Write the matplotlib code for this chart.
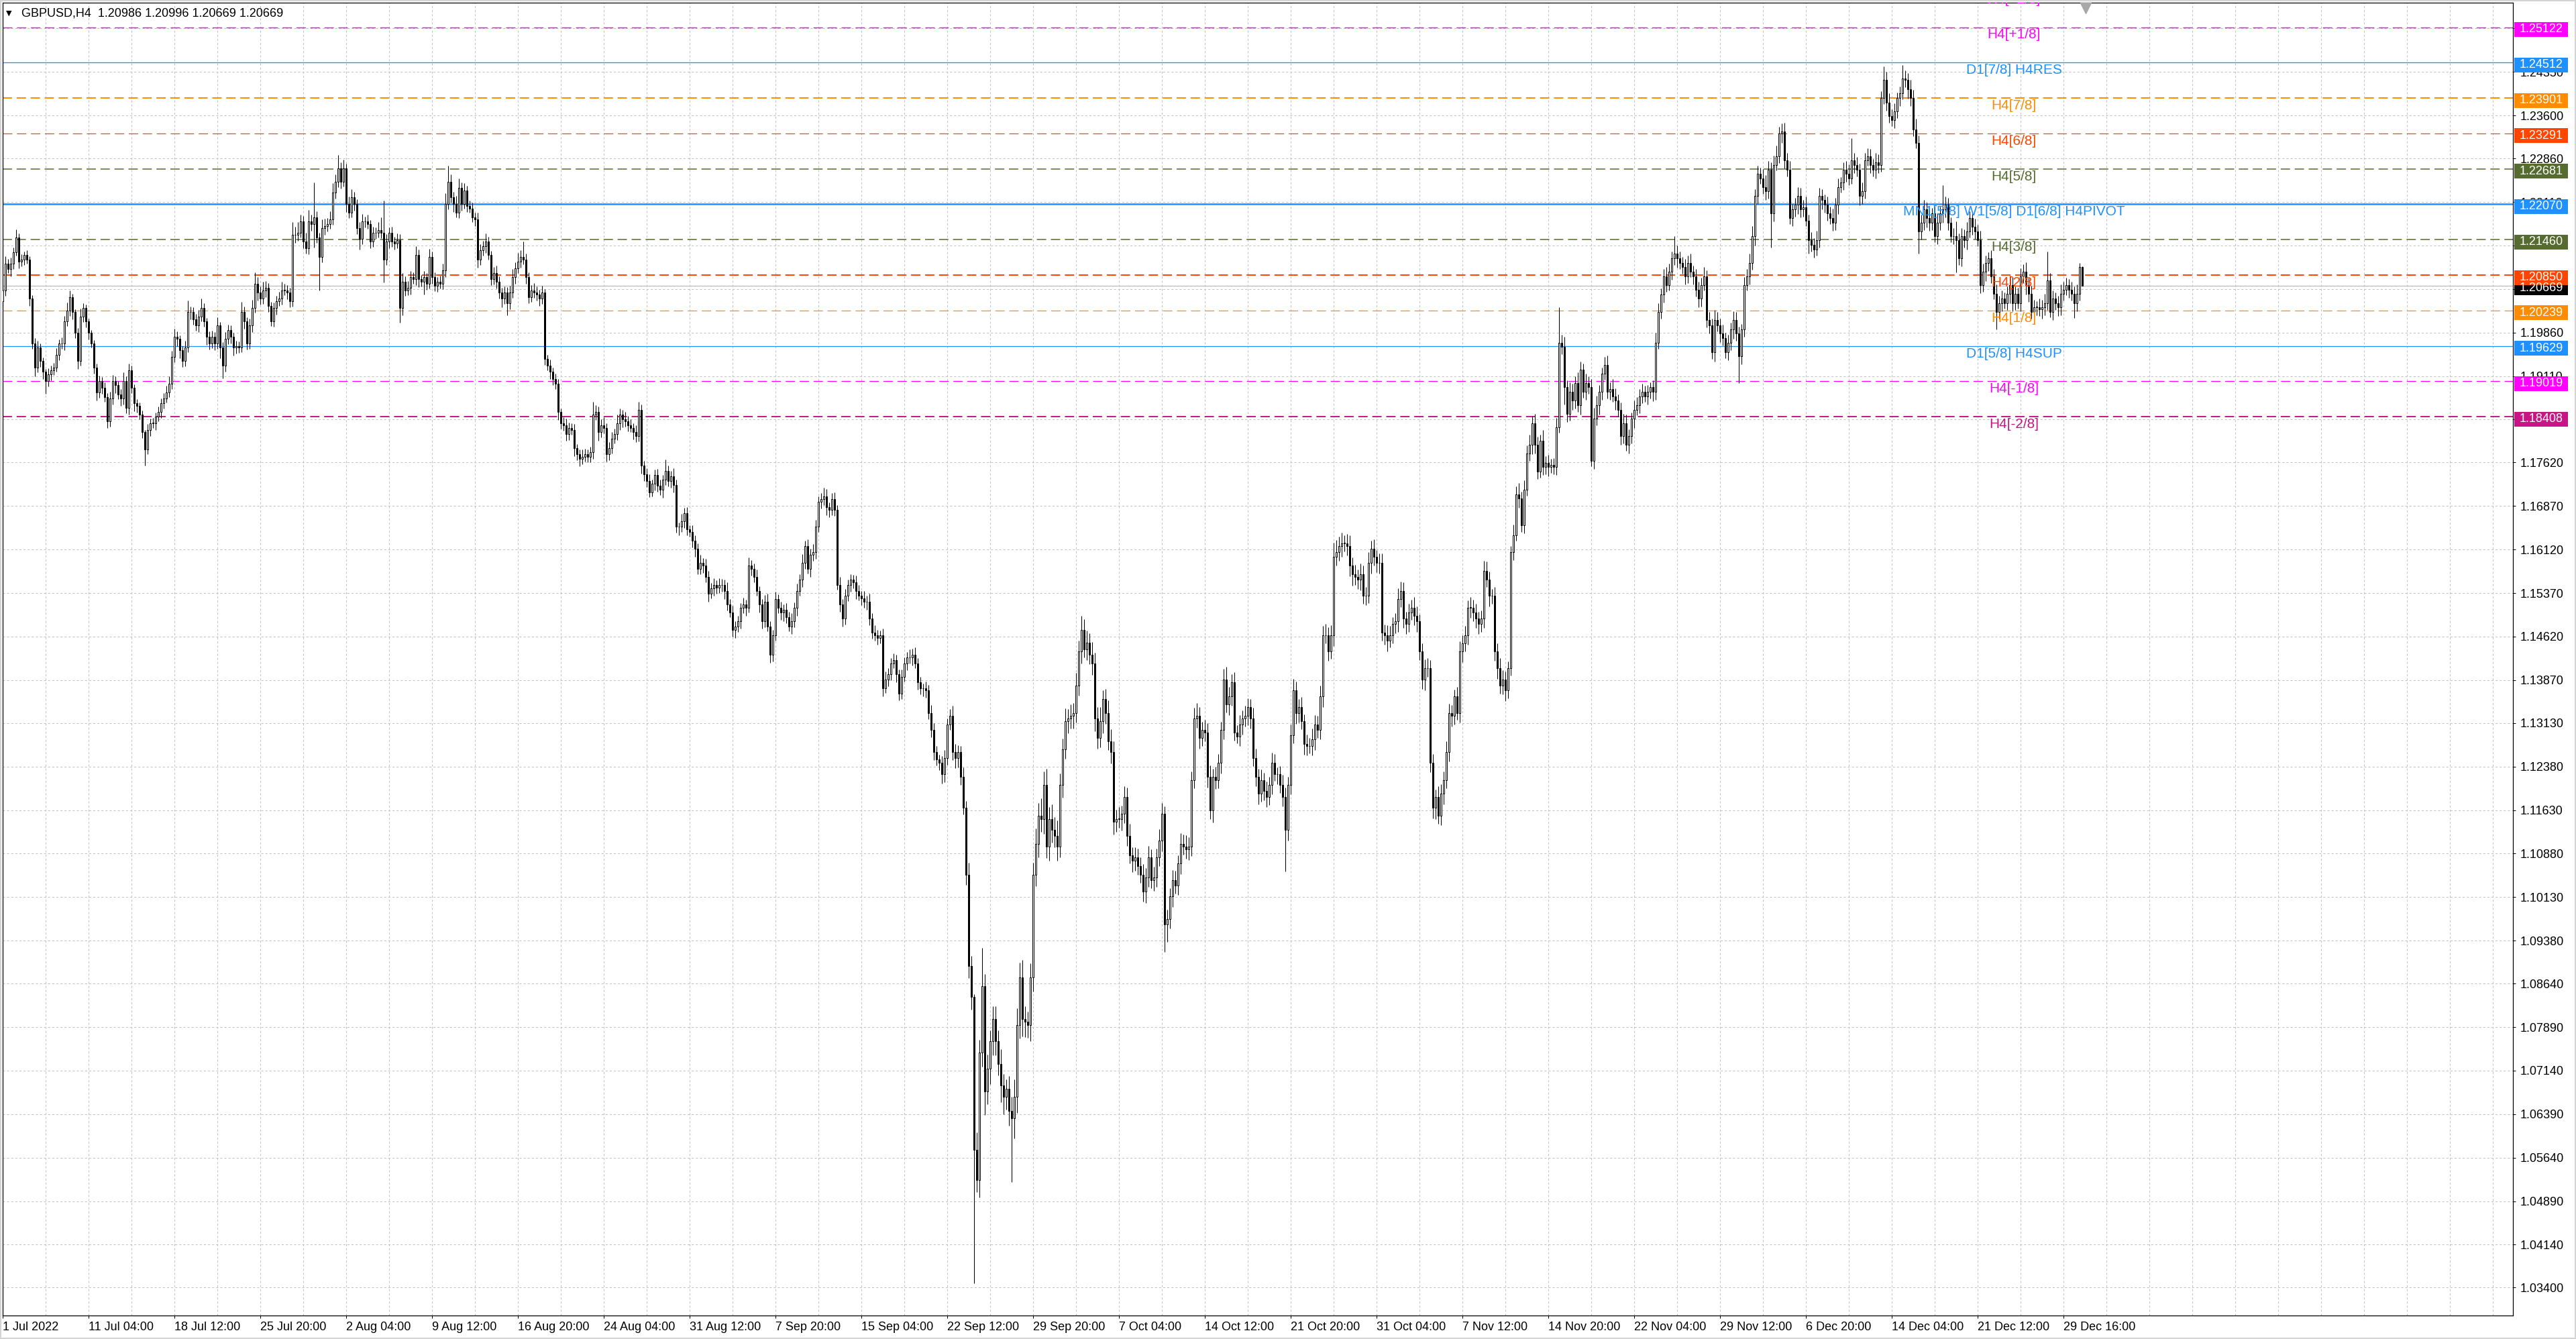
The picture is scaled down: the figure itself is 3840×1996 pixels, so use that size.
import matplotlib
matplotlib.use("Agg")
import matplotlib.pyplot as plt
import matplotlib.transforms as mtrans
from matplotlib.patches import Rectangle
import numpy as np

plt.rcParams['font.family'] = ['Liberation Sans', 'DejaVu Sans']
plt.rcParams['lines.scale_dashes'] = False

# %% data: H4 closes (1 Jul - 30 Dec 2022)
first_open = 1.2040

close_jul_aug = [
    1.2059, 1.2105, 1.2095, 1.2105, 1.2124, 1.2150, 1.2108, 1.2112, 1.2120, 1.2112,
    1.2044, 1.1967, 1.1925, 1.1960, 1.1937, 1.1918, 1.1902, 1.1914, 1.1921, 1.1925,
    1.1948, 1.1967, 1.1967, 1.2005, 1.2024, 1.2047, 1.2021, 1.1986, 1.1937, 1.2013,
    1.2028, 1.2005, 1.1986, 1.1967, 1.1925, 1.1883, 1.1902, 1.1891, 1.1875, 1.1833,
    1.1872, 1.1902, 1.1895, 1.1879, 1.1872, 1.1902, 1.1856, 1.1921, 1.1891, 1.1864,
    1.1860, 1.1845, 1.1814, 1.1784, 1.1818, 1.1830, 1.1830, 1.1841, 1.1849, 1.1864,
    1.1872, 1.1883, 1.1898, 1.1944, 1.1979, 1.1975, 1.1956, 1.1937, 1.1960, 1.2021,
    1.2021, 1.2009, 1.1998, 1.2013, 1.2028, 1.2005, 1.1979, 1.1967, 1.1979, 1.1967,
    1.1998, 1.1960, 1.1929, 1.1975, 1.1990, 1.1979, 1.1960, 1.1963, 1.1960, 1.2021,
    1.2005, 1.1967, 1.1998, 1.2028, 1.2070, 1.2055, 1.2044, 1.2059, 1.2063, 1.2032,
    1.2005, 1.2028, 1.2040, 1.2044, 1.2059, 1.2059, 1.2055, 1.2040, 1.2154, 1.2154,
    1.2158, 1.2177, 1.2143, 1.2131, 1.2177, 1.2173, 1.2185, 1.2150, 1.2116, 1.2166,
    1.2170, 1.2173, 1.2181, 1.2227, 1.2246, 1.2269, 1.2246, 1.2269, 1.2208, 1.2193,
    1.2219, 1.2208, 1.2166, 1.2147, 1.2177, 1.2177, 1.2173, 1.2143, 1.2158, 1.2158,
    1.2162, 1.2158, 1.2112, 1.2143, 1.2158, 1.2143, 1.2139, 1.2145, 1.2028, 1.2074,
    1.2059, 1.2063, 1.2082, 1.2078, 1.2120, 1.2078, 1.2074, 1.2082, 1.2070, 1.2116,
    1.2082, 1.2066, 1.2074, 1.2070, 1.2093, 1.2208, 1.2246, 1.2219, 1.2208, 1.2193,
    1.2235, 1.2208, 1.2231, 1.2204, 1.2200, 1.2185, 1.2181, 1.2112, 1.2128, 1.2135,
    1.2143, 1.2120, 1.2078, 1.2089, 1.2074, 1.2055, 1.2044, 1.2055, 1.2036, 1.2055,
    1.2082, 1.2097, 1.2108, 1.2116, 1.2112, 1.2082, 1.2047, 1.2059, 1.2055, 1.2051,
    1.2044, 1.2055, 1.1940, 1.1929, 1.1918, 1.1906, 1.1898, 1.1849, 1.1830, 1.1826,
    1.1811, 1.1822, 1.1818, 1.1787, 1.1776, 1.1768, 1.1772, 1.1776, 1.1772, 1.1780,
    1.1845, 1.1849, 1.1814, 1.1826, 1.1822, 1.1776, 1.1787, 1.1803, 1.1811, 1.1830,
    1.1845, 1.1837, 1.1833, 1.1826, 1.1822, 1.1814, 1.1807, 1.1853, 1.1757, 1.1742,
    1.1730, 1.1711, 1.1726, 1.1741, 1.1722, 1.1715, 1.1733, 1.1748, 1.1730, 1.1738,
]

close_sep_nov = [
    1.1723, 1.1651, 1.1651, 1.1661, 1.1675, 1.1647, 1.1642, 1.1627, 1.1613, 1.1579,
    1.1589, 1.1584, 1.1565, 1.1536, 1.1545, 1.1551, 1.1546, 1.1551, 1.1551, 1.1541,
    1.1517, 1.1503, 1.1474, 1.1479, 1.1488, 1.1512, 1.1517, 1.1512, 1.1584, 1.1579,
    1.1565, 1.1541, 1.1517, 1.1488, 1.1522, 1.1479, 1.1431, 1.1464, 1.1527, 1.1512,
    1.1503, 1.1508, 1.1495, 1.1479, 1.1488, 1.1512, 1.1541, 1.1560, 1.1589, 1.1618,
    1.1579, 1.1603, 1.1608, 1.1651, 1.1694, 1.1699, 1.1704, 1.1685, 1.1680, 1.1699,
    1.1680, 1.1551, 1.1517, 1.1493, 1.1532, 1.1551, 1.1560, 1.1555, 1.1541, 1.1532,
    1.1528, 1.1522, 1.1522, 1.1493, 1.1469, 1.1464, 1.1460, 1.1464, 1.1373, 1.1388,
    1.1397, 1.1416, 1.1421, 1.1397, 1.1364, 1.1393, 1.1416, 1.1426, 1.1426, 1.1431,
    1.1416, 1.1383, 1.1373, 1.1373, 1.1369, 1.1330, 1.1301, 1.1263, 1.1250, 1.1244,
    1.1225, 1.1253, 1.1311, 1.1325, 1.1263, 1.1253, 1.1263, 1.1220, 1.1167, 1.1052,
    1.0894, 1.0841, 1.0578, 1.0525, 1.0745, 1.0860, 1.0678, 1.0717, 1.0765, 1.0803,
    1.0765, 1.0726, 1.0688, 1.0669, 1.0683, 1.0645, 1.0632, 1.0669, 1.0793, 1.0875,
    1.0803, 1.0798, 1.0793, 1.0875, 1.1052, 1.1105, 1.1153, 1.1148, 1.1206, 1.1100,
    1.1148, 1.1129, 1.1119, 1.1100, 1.1206, 1.1268, 1.1316, 1.1321, 1.1325, 1.1330,
    1.1378, 1.1436, 1.1474, 1.1440, 1.1452, 1.1431, 1.1416, 1.1321, 1.1287, 1.1316,
    1.1354, 1.1330, 1.1282, 1.1263, 1.1143, 1.1148, 1.1148, 1.1157, 1.1186, 1.1119,
    1.1085, 1.1076, 1.1081, 1.1067, 1.1052, 1.1023, 1.1047, 1.1081, 1.1042, 1.1047,
    1.1081, 1.1110, 1.1157, 1.0966, 1.0975, 1.1014, 1.1042, 1.1033, 1.1071, 1.1105,
    1.1100, 1.1095, 1.1100, 1.1215, 1.1321, 1.1325, 1.1287, 1.1301, 1.1297, 1.1220,
    1.1162, 1.1220, 1.1215, 1.1244, 1.1301, 1.1388, 1.1345, 1.1359, 1.1383, 1.1297,
    1.1290, 1.1311, 1.1321, 1.1325, 1.1340, 1.1321, 1.1253, 1.1220, 1.1191, 1.1215,
    1.1196, 1.1186, 1.1206, 1.1244, 1.1225, 1.1225, 1.1206, 1.1186, 1.1129, 1.1206,
    1.1292, 1.1369, 1.1330, 1.1340, 1.1316, 1.1277, 1.1273, 1.1273, 1.1285, 1.1311,
    1.1301, 1.1359, 1.1464, 1.1464, 1.1436, 1.1464, 1.1599, 1.1608, 1.1618, 1.1623,
    1.1623, 1.1618, 1.1584, 1.1570, 1.1565, 1.1560, 1.1570, 1.1532, 1.1532, 1.1589,
    1.1613, 1.1599, 1.1589, 1.1589, 1.1469, 1.1464, 1.1455, 1.1464, 1.1484, 1.1488,
    1.1527, 1.1541, 1.1493, 1.1484, 1.1503, 1.1512, 1.1498, 1.1488, 1.1436, 1.1388,
    1.1407, 1.1407, 1.1244, 1.1167, 1.1186, 1.1153, 1.1191, 1.1215, 1.1263, 1.1330,
    1.1325, 1.1359, 1.1330, 1.1436, 1.1450, 1.1464, 1.1512, 1.1512, 1.1503, 1.1493,
    1.1484, 1.1493, 1.1575, 1.1560, 1.1532, 1.1532, 1.1436, 1.1407, 1.1378, 1.1388,
    1.1369, 1.1407,
]

close_nov_dec = [
    1.1608, 1.1637, 1.1707, 1.1700, 1.1654, 1.1715, 1.1777, 1.1792, 1.1830, 1.1792,
    1.1746, 1.1800, 1.1754, 1.1761, 1.1754, 1.1758, 1.1754, 1.1823, 1.1968, 1.1961,
    1.1892, 1.1846, 1.1884, 1.1869, 1.1899, 1.1861, 1.1922, 1.1884, 1.1899, 1.1892,
    1.1765, 1.1838, 1.1861, 1.1884, 1.1915, 1.1930, 1.1884, 1.1888, 1.1876, 1.1869,
    1.1853, 1.1807, 1.1830, 1.1792, 1.1807, 1.1838, 1.1853, 1.1861, 1.1876, 1.1884,
    1.1876, 1.1884, 1.1892, 1.1884, 1.1968, 1.2022, 1.2052, 1.2083, 1.2068, 1.2091,
    1.2114, 1.2122, 1.2114, 1.2106, 1.2099, 1.2083, 1.2106, 1.2091, 1.2083, 1.2060,
    1.2045, 1.2068, 1.2083, 1.2007, 1.1998, 1.1952, 1.2007, 1.1998, 1.1984, 1.1976,
    1.1952, 1.1968, 1.1991, 1.2007, 1.1984, 1.1945, 1.1991, 1.2068, 1.2083, 1.2106,
    1.2152, 1.2221, 1.2260, 1.2252, 1.2237, 1.2229, 1.2267, 1.2191, 1.2275, 1.2290,
    1.2329, 1.2332, 1.2283, 1.2267, 1.2183, 1.2198, 1.2206, 1.2221, 1.2198, 1.2202,
    1.2179, 1.2145, 1.2137, 1.2129, 1.2145, 1.2221, 1.2214, 1.2206, 1.2191, 1.2183,
    1.2175, 1.2206, 1.2237, 1.2244, 1.2267, 1.2260, 1.2252, 1.2283, 1.2275, 1.2267,
    1.2221, 1.2229, 1.2283, 1.2290, 1.2275, 1.2267, 1.2279, 1.2275, 1.2390, 1.2421,
    1.2382, 1.2359, 1.2352, 1.2367, 1.2390, 1.2398, 1.2424, 1.2421, 1.2405, 1.2390,
    1.2336, 1.2313, 1.2160, 1.2175, 1.2198, 1.2183, 1.2175, 1.2191, 1.2152, 1.2175,
    1.2191, 1.2198, 1.2206, 1.2175, 1.2152, 1.2152, 1.2145, 1.2114, 1.2152, 1.2145,
    1.2160, 1.2183, 1.2168, 1.2160, 1.2145, 1.2068, 1.2091, 1.2106, 1.2114, 1.2083,
    1.2053, 1.2022, 1.2037, 1.2045, 1.2037, 1.2053, 1.2068, 1.2037, 1.2053, 1.2037,
    1.2083, 1.2091, 1.2068, 1.2053, 1.2022, 1.2030, 1.2030, 1.2026, 1.2030, 1.2037,
    1.2076, 1.2022, 1.2045, 1.2037, 1.2030, 1.2053, 1.2060, 1.2068, 1.2060, 1.2053,
    1.2037, 1.2053, 1.20986, 1.20669,
]

# wick lengths in pips (upper / lower), same order as the closes
up_jul_aug = [
    6, 12, 8, 10, 9, 14, 7, 9, 6, 8, 5, 6, 9, 12, 7, 6, 5, 10, 8, 9, 11, 7, 10, 9, 14,
    12, 6, 5, 8, 14, 9, 6, 5, 4, 6, 8, 10, 7, 9, 6, 12, 11, 8, 7, 10, 15, 9, 12, 8, 6,
    7, 5, 6, 4, 10, 8, 9, 7, 10, 8, 9, 11, 12, 10, 14, 9, 6, 7, 12, 20, 10, 8, 9, 12, 16,
    8, 6, 9, 10, 8, 14, 6, 9, 12, 10, 8, 7, 9, 8, 18, 10, 7, 12, 14, 20, 12, 10, 15, 12, 8,
    7, 10, 9, 12, 14, 11, 9, 8, 22, 14, 18, 12, 10, 15, 20, 12, 59, 10, 8, 15, 12, 10, 14, 16, 12,
    23, 10, 15, 8, 12, 14, 9, 8, 10, 13, 9, 12, 7, 10, 9, 14, 22, 55, 12, 9, 10, 8, 12, 10, 14,
    9, 12, 10, 8, 15, 9, 7, 10, 6, 14, 9, 8, 7, 10, 12, 18, 27, 12, 9, 14, 16, 10, 12, 8, 9,
    10, 8, 12, 10, 9, 14, 8, 7, 10, 12, 9, 8, 10, 9, 12, 14, 10, 15, 12, 27, 10, 8, 9, 12, 10,
    9, 12, 6, 8, 10, 7, 9, 8, 6, 10, 12, 9, 8, 10, 7, 9, 12, 10, 8, 9, 22, 12, 9, 10, 14,
    8, 10, 12, 9, 14, 10, 8, 12, 9, 10, 8, 12, 14, 9, 8, 10, 12, 7, 9, 10, 11, 8, 19, 9, 10,
]
dn_jul_aug = [
    8, 10, 7, 12, 9, 6, 11, 8, 10, 7, 12, 9, 14, 8, 10, 12, 22, 9, 10, 8, 7, 10, 9, 11, 8,
    9, 12, 10, 14, 8, 9, 10, 12, 7, 10, 14, 9, 11, 8, 12, 9, 10, 14, 8, 12, 10, 9, 11, 10, 14,
    12, 9, 10, 27, 8, 10, 9, 12, 8, 10, 9, 7, 8, 10, 9, 12, 14, 10, 9, 8, 12, 10, 9, 11, 8,
    9, 14, 10, 8, 12, 9, 18, 22, 10, 9, 12, 14, 10, 9, 8, 12, 10, 9, 11, 8, 14, 10, 9, 12, 10,
    8, 9, 11, 8, 10, 9, 12, 10, 9, 14, 10, 8, 12, 9, 10, 12, 41, 10, 57, 9, 12, 10, 8, 9, 10,
    9, 12, 8, 14, 10, 9, 12, 10, 18, 9, 10, 8, 12, 9, 10, 8, 9, 40, 10, 12, 9, 10, 8, 25, 12,
    10, 9, 12, 8, 10, 14, 9, 22, 10, 8, 12, 9, 10, 8, 9, 12, 10, 9, 14, 8, 10, 12, 9, 10, 8,
    9, 12, 14, 10, 9, 12, 8, 10, 9, 12, 10, 14, 9, 20, 10, 9, 12, 8, 10, 9, 12, 10, 8, 9, 10,
    12, 9, 10, 8, 12, 10, 9, 14, 10, 9, 12, 10, 8, 14, 10, 12, 9, 8, 10, 9, 12, 10, 14, 9, 10,
    12, 10, 9, 8, 10, 12, 14, 9, 10, 8, 12, 10, 9, 14, 12, 10, 9, 8, 12, 10, 9, 14, 10, 9, 12,
]
up_sep_nov = [
    14, 10, 8, 12, 9, 10, 7, 12, 9, 10, 14, 8, 12, 10, 9, 11, 8, 12, 10, 9, 14, 10, 12, 9,
    10, 8, 12, 9, 14, 10, 9, 12, 8, 10, 12, 14, 9, 10, 12, 8, 10, 9, 12, 10, 14, 9, 12, 10,
    15, 9, 12, 10, 14, 12, 9, 10, 14, 12, 8, 10, 12, 9, 14, 10, 12, 9, 10, 8, 12, 10, 9, 12,
    10, 14, 9, 12, 10, 8, 12, 14, 10, 9, 12, 10, 8, 12, 10, 9, 14, 10, 12, 9, 10, 8, 12, 10,
    14, 12, 10, 9, 12, 14, 10, 12, 18, 14, 12, 10, 16, 12, 20, 18, 5, 30, 22, 65, 20, 25, 18, 22,
    22, 18, 25, 20, 16, 22, 24, 30, 28, 25, 30, 22, 18, 24, 20, 26, 22, 30, 24, 28, 20, 25, 22, 26,
    20, 18, 22, 16, 20, 18, 22, 19, 24, 18, 20, 16, 22, 18, 20, 24, 16, 18, 22, 20, 18, 16, 20, 14,
    18, 16, 20, 14, 18, 16, 14, 18, 16, 20, 14, 18, 16, 20, 18, 12, 16, 14, 18, 16, 14, 18, 16, 20,
    16, 14, 18, 22, 16, 14, 18, 16, 20, 14, 18, 16, 14, 18, 22, 16, 14, 18, 12, 16, 14, 18, 16, 14,
    18, 16, 14, 18, 12, 16, 14, 18, 16, 12, 14, 18, 16, 14, 18, 20, 16, 14, 18, 12, 16, 14, 18, 16,
    14, 18, 16, 20, 14, 18, 25, 20, 16, 18, 14, 16, 18, 14, 16, 12, 18, 14, 16, 18, 14, 16, 12, 16,
    16, 14, 18, 16, 12, 14, 18, 16, 14, 12, 16, 14, 18, 16, 12, 14, 16, 18, 14, 16, 12, 18, 16, 14,
    18, 16, 14, 12, 16, 18, 14, 16, 12, 18, 14, 16, 12, 14, 18, 16, 14, 12, 16, 14, 18, 16, 14, 12,
]
dn_sep_nov = [
    12, 10, 14, 9, 12, 10, 8, 11, 14, 10, 9, 12, 10, 14, 8, 12, 10, 9, 12, 14, 10, 8, 12, 14,
    9, 12, 10, 14, 8, 12, 10, 9, 14, 12, 10, 8, 14, 12, 9, 10, 12, 14, 10, 8, 12, 10, 14, 9,
    12, 10, 8, 14, 10, 12, 9, 11, 10, 14, 12, 9, 10, 8, 12, 14, 10, 9, 12, 10, 14, 8, 12, 10,
    14, 12, 10, 9, 12, 10, 14, 8, 12, 10, 9, 14, 12, 10, 8, 12, 10, 14, 9, 12, 10, 14, 12, 10,
    12, 14, 10, 12, 16, 14, 12, 10, 14, 18, 16, 14, 12, 18, 20, 22, 231, 20, 30, 24, 40, 22, 26, 24,
    24, 20, 28, 30, 22, 26, 110, 35, 28, 24, 30, 26, 22, 28, 25, 20, 24, 22, 26, 20, 24, 22, 20, 24,
    18, 22, 16, 20, 18, 22, 16, 18, 20, 14, 18, 16, 20, 22, 18, 16, 20, 18, 16, 20, 22, 18, 16, 20,
    16, 18, 14, 20, 18, 16, 14, 18, 20, 16, 14, 18, 16, 14, 18, 48, 30, 16, 18, 14, 16, 18, 14, 16,
    18, 16, 14, 16, 18, 14, 16, 18, 14, 20, 16, 14, 18, 16, 14, 18, 16, 14, 12, 16, 18, 14, 16, 18,
    14, 16, 18, 14, 16, 18, 14, 16, 12, 18, 14, 16, 72, 18, 16, 14, 18, 16, 14, 18, 16, 12, 16, 18,
    14, 16, 18, 14, 16, 12, 18, 14, 16, 18, 14, 16, 18, 20, 14, 16, 18, 14, 16, 12, 18, 14, 16, 18,
    14, 16, 18, 12, 14, 16, 18, 14, 16, 18, 14, 12, 16, 18, 14, 16, 18, 14, 16, 18, 20, 14, 16, 18,
    14, 16, 18, 14, 12, 16, 18, 14, 16, 18, 14, 16, 18, 14, 16, 12, 18, 14, 16, 18, 14, 16, 18, 14,
]
up_nov_dec = [
    10, 18, 14, 20, 12, 16, 14, 18, 12, 16, 14, 10, 18, 12, 14, 10, 12, 16, 62, 14, 18, 12, 16, 14,
    12, 18, 14, 10, 16, 12, 14, 18, 16, 12, 10, 14, 16, 12, 18, 14, 10, 12, 16, 14, 12, 10, 16, 14,
    12, 14, 10, 12, 8, 12, 18, 14, 10, 12, 16, 14, 12, 30, 14, 12, 10, 14, 12, 16, 10, 12, 14, 12,
    16, 10, 14, 12, 18, 14, 12, 16, 10, 14, 12, 16, 14, 12, 10, 14, 12, 16, 18, 12, 14, 10, 16, 20,
    14, 12, 16, 18, 12, 14, 16, 12, 14, 10, 12, 16, 14, 12, 18, 10, 14, 12, 16, 14, 12, 10, 14, 12,
    16, 12, 14, 10, 12, 14, 16, 38, 12, 14, 10, 16, 12, 14, 12, 10, 16, 14, 12, 23, 14, 16, 12, 14,
    10, 12, 23, 14, 12, 16, 14, 18, 12, 14, 16, 12, 14, 10, 12, 16, 12, 42, 14, 12, 10, 14, 25, 12,
    14, 12, 16, 12, 10, 14, 12, 16, 14, 12, 10, 14, 12, 16, 12, 14, 10, 12, 16, 14, 12, 10, 14, 12,
    16, 12, 14, 12, 10, 14, 12, 16, 49, 12, 14, 10, 12, 16, 14, 12, 10, 14, 12, 16, 7, 1,
]
dn_nov_dec = [
    12, 14, 10, 16, 12, 14, 10, 12, 16, 14, 12, 10, 14, 12, 16, 10, 12, 14, 10, 12, 30, 14, 12, 16,
    14, 12, 16, 10, 14, 12, 10, 14, 12, 16, 14, 10, 12, 14, 10, 16, 12, 14, 12, 10, 14, 12, 16, 10,
    14, 12, 10, 14, 12, 16, 14, 10, 12, 14, 12, 10, 14, 12, 16, 10, 12, 14, 12, 10, 14, 12, 16, 14,
    10, 12, 14, 12, 16, 10, 14, 12, 10, 14, 12, 16, 12, 46, 14, 12, 10, 14, 12, 16, 14, 10, 12, 14,
    12, 58, 14, 10, 12, 16, 14, 12, 10, 14, 12, 16, 14, 12, 10, 23, 12, 14, 10, 12, 16, 14, 12, 10,
    14, 12, 16, 10, 12, 14, 12, 10, 14, 12, 16, 14, 12, 10, 14, 12, 16, 14, 12, 10, 14, 12, 10, 14,
    12, 14, 10, 12, 16, 14, 12, 10, 38, 14, 12, 16, 14, 12, 10, 14, 12, 16, 14, 12, 10, 14, 55, 12,
    14, 12, 16, 10, 14, 12, 10, 14, 12, 16, 14, 12, 10, 31, 12, 14, 10, 12, 16, 14, 12, 10, 14, 12,
    16, 14, 12, 10, 14, 12, 16, 14, 12, 10, 14, 12, 16, 14, 12, 10, 14, 12, 26, 14, 12, 0,
]

# Murrey math levels drawn by the indicator
level_prices = [1.25733, 1.25122, 1.24512, 1.23901, 1.23291, 1.22681, 1.22070,
                1.21460, 1.20850, 1.20239, 1.19629, 1.19019, 1.18408]
level_names = ['H4[+2/8]', 'H4[+1/8]', 'D1[7/8] H4RES', 'H4[7/8]', 'H4[6/8]', 'H4[5/8]',
               'MN1[5/8] W1[5/8] D1[6/8] H4PIVOT', 'H4[3/8]', 'H4[2/8]', 'H4[1/8]',
               'D1[5/8] H4SUP', 'H4[-1/8]', 'H4[-2/8]']
level_colors = ['#FF00FF', '#FF00FF', '#1E90FF', '#FF8C00', '#FF4500', '#556B2F', '#1E90FF',
                '#556B2F', '#FF4500', '#FF8C00', '#1E90FF', '#FF00FF', '#C71585']
level_dashed = [True, True, False, True, True, True, False, True, True, True, False, True, True]
level_lw = [1.0, 1.0, 0.9, 1.4, 0.9, 1.1, 1.8, 1.1, 1.4, 0.9, 0.9, 0.9, 1.4]

last_price = 1.20669
header = 'GBPUSD,H4  1.20986 1.20996 1.20669 1.20669'

ytick_vals = [1.03400, 1.04140, 1.04890, 1.05640, 1.06390, 1.07140, 1.07890, 1.08640,
              1.09380, 1.10130, 1.10880, 1.11630, 1.12380, 1.13130, 1.13870, 1.14620,
              1.15370, 1.16120, 1.16870, 1.17620, 1.18370, 1.19110, 1.19860, 1.20610,
              1.21360, 1.22110, 1.22860, 1.23600, 1.24350, 1.25100]

xtick_labels = ['1 Jul 2022', '11 Jul 04:00', '18 Jul 12:00', '25 Jul 20:00', '2 Aug 04:00',
                '9 Aug 12:00', '16 Aug 20:00', '24 Aug 04:00', '31 Aug 12:00', '7 Sep 20:00',
                '15 Sep 04:00', '22 Sep 12:00', '29 Sep 20:00', '7 Oct 04:00', '14 Oct 12:00',
                '21 Oct 20:00', '31 Oct 04:00', '7 Nov 12:00', '14 Nov 20:00', '22 Nov 04:00',
                '29 Nov 12:00', '6 Dec 20:00', '14 Dec 04:00', '21 Dec 12:00', '29 Dec 16:00']
bars_per_label = 32

# %% build OHLC
close = np.array(close_jul_aug + close_sep_nov + close_nov_dec)
up = np.array(up_jul_aug + up_sep_nov + up_nov_dec) / 10000.0
dn = np.array(dn_jul_aug + dn_sep_nov + dn_nov_dec) / 10000.0
assert len(close) == len(up) == len(dn), (len(close), len(up), len(dn))
opn = np.concatenate([[first_open], close[:-1]])
high = np.maximum(opn, close) + up
low = np.minimum(opn, close) - dn
x = np.arange(len(close))

# %% figure
W, H = 3840, 1996
fig = plt.figure(figsize=(W / 100, H / 100), dpi=100)
ax = fig.add_axes([3.5 / W, 1 - 1961 / H, (3746 - 3.5) / W, (1961 - 3.5) / H])

px_per_price = 8650.0
ytop = 1.25122 + 37 / px_per_price
ybot = 1.25122 - (1961 - 40.5) / px_per_price
ax.set_ylim(ybot, ytop)
ax.set_xlim(-0.125, 935.5)

grid_kw = dict(color='#c0c0c0', linewidth=0.72, linestyle=(0, (2.2, 2.2)))
for gx in range(0, 936, 16):
    ax.axvline(gx, zorder=0.5, **grid_kw)
for gy in ytick_vals:
    ax.axhline(gy, zorder=0.5, **grid_kw)

# level lines
for p, c, d, lw in zip(level_prices, level_colors, level_dashed, level_lw):
    ls = (0, (10, 5)) if d else '-'
    ax.axhline(p, color=c, lw=lw, linestyle=ls, zorder=1)
ax.axhline(last_price, color='#c0c0c0', lw=1.0, zorder=1)

# candles
ax.vlines(x, low, high, color='black', linewidth=0.75, zorder=3)
bull = close >= opn
body_h = np.maximum(np.abs(close - opn), 0.00004)
body_b = np.minimum(opn, close)
ax.bar(x[bull], body_h[bull], bottom=body_b[bull], width=0.5, color='white',
       edgecolor='black', linewidth=0.72, zorder=4)
ax.bar(x[~bull], body_h[~bull], bottom=body_b[~bull], width=0.5, color='black',
       edgecolor='black', linewidth=0.72, zorder=4)

# level labels
for p, name, c in zip(level_prices, level_names, level_colors):
    ax.text(749.5, p - 17 / px_per_price, name, color=c, fontsize=15,
            ha='center', va='baseline', zorder=6, clip_on=True)

# chart-shift marker
ax.plot([776.3], [ytop - 8 / px_per_price], marker='v', color='#a8a8a8',
        markersize=12, zorder=6, clip_on=False)

# axes styling
for s in ax.spines.values():
    s.set_color('black')
    s.set_linewidth(0.9)
ax.yaxis.tick_right()
ax.set_yticks(ytick_vals)
ax.set_yticklabels(['%.5f' % v for v in ytick_vals])
ax.set_xticks([i * bars_per_label for i in range(len(xtick_labels))])
ax.set_xticklabels(xtick_labels, ha='left')
ax.tick_params(axis='y', direction='out', length=3, width=0.72, pad=4.5,
               labelsize=13, colors='black')
ax.tick_params(axis='x', direction='out', length=3, width=0.72, pad=3.5,
               labelsize=13, colors='black')

# price tags on the right axis (sit a few pixels below their line)
trans = mtrans.blended_transform_factory(fig.transFigure, ax.transData)
tag_h = 22 / px_per_price
tag_shift = 3.5 / px_per_price
tags = [(last_price, 'black')] + list(zip(level_prices[1:], level_colors[1:]))
for p, c in tags:
    yc = p - tag_shift
    ax.add_artist(Rectangle((3748 / W, yc - tag_h / 2), 80 / W, tag_h, transform=trans,
                            facecolor=c, edgecolor='none', zorder=7, clip_on=False))
    ax.text(3788 / W, yc, '%.5f' % p, transform=trans, color='white', fontsize=13,
            ha='center', va='center', zorder=8, clip_on=False)

# header
fig.text(13 / W, 1 - 20 / H, '\u25bc', fontsize=8, family='DejaVu Sans',
         ha='center', va='center')
fig.text(32 / W, 1 - 20 / H, header, fontsize=13, ha='left', va='center')

# outer border
fig.add_artist(Rectangle((0, 0), 1, 1, transform=fig.transFigure, facecolor='none',
                         edgecolor='#d4d4d4', linewidth=3))

fig.savefig('out.png', dpi=100, facecolor='white')
